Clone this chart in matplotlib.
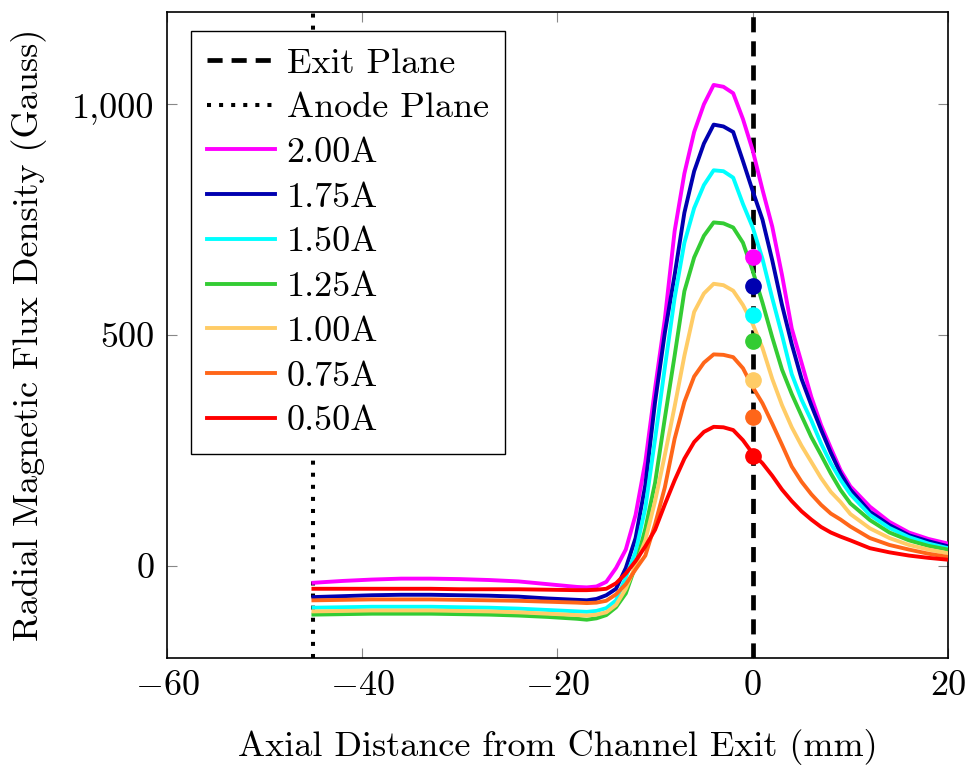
import numpy as np
import matplotlib
matplotlib.use("Agg")
import matplotlib.pyplot as plt
from matplotlib.ticker import FuncFormatter

plt.rcParams['font.family'] = ['cmr10', 'DejaVu Serif']
plt.rcParams['mathtext.fontset'] = 'cm'
plt.rcParams['axes.formatter.use_mathtext'] = True

# axial position (mm)
distance = [-45, -42, -39, -36, -33, -30, -27, -24, -21, -18, -17, -16, -15,
            -14, -13, -12, -11, -10, -9, -8, -7, -6, -5, -4, -3, -2, -1,
            0, 1, 2, 3, 4, 5, 6, 7, 8, 9, 10,
            12, 14, 16, 18, 20]

# radial flux density (Gauss) per coil current
b_200 = [-37, -33, -30, -28, -28, -29, -31, -34, -40, -46, -47, -45, -35,
         -5, 35, 110, 225, 385, 535, 725, 850, 940, 1000, 1042, 1038, 1024, 968,
         900, 815, 735, 630, 514, 440, 366, 305, 255, 207, 172,
         128, 95, 72, 58, 48]
b_175 = [-68, -66, -64, -63, -63, -64, -65, -67, -71, -74, -75, -72, -64,
         -50, -5, 60, 175, 355, 505, 630, 765, 855, 915, 956, 952, 940, 877,
         812, 750, 662, 565, 480, 405, 348, 295, 245, 200, 165,
         117, 88, 66, 53, 42]
b_150 = [-91, -90, -89, -89, -89, -90, -91, -93, -96, -99, -100, -98, -92,
         -75, -25, 30, 125, 275, 430, 580, 700, 775, 825, 857, 855, 841, 784,
         733, 665, 580, 500, 415, 360, 315, 265, 222, 186, 155,
         110, 82, 62, 48, 38]
b_125 = [-106, -105, -104, -104, -104, -105, -106, -108, -111, -115, -117, -114, -107,
         -90, -60, 0, 80, 180, 320, 455, 595, 668, 715, 744, 742, 733, 700,
         639, 570, 495, 425, 372, 325, 279, 240, 200, 164, 135,
         99, 72, 55, 43, 35]
b_100 = [-99, -98, -97, -97, -97, -98, -99, -101, -104, -107, -108, -106, -101,
         -85, -50, 0, 55, 140, 240, 345, 455, 550, 590, 611, 608, 596, 565,
         524, 472, 405, 348, 300, 260, 225, 190, 160, 138, 112,
         81, 60, 45, 35, 27]
b_075 = [-75, -74, -73, -73, -73, -74, -75, -76, -78, -80, -81, -80, -76,
         -62, -40, -8, 22, 90, 170, 275, 355, 410, 440, 458, 457, 452, 428,
         387, 352, 308, 262, 215, 182, 155, 132, 113, 100, 85,
         60, 45, 35, 26, 19]
b_050 = [-50, -50, -50, -50, -50, -51, -51, -51, -52, -53, -53, -52, -50,
         -38, -17, 10, 42, 78, 133, 185, 232, 268, 290, 301, 300, 294, 272,
         243, 222, 195, 165, 140, 118, 100, 84, 72, 63, 55,
         38, 29, 22, 17, 13]

labels = ['2.00A', '1.75A', '1.50A', '1.25A', '1.00A', '0.75A', '0.50A']
series = [b_200, b_175, b_150, b_125, b_100, b_075, b_050]
colors = ['#ff00ff', '#0000b0', '#00ffff', '#33cc33', '#ffcc66', '#ff6619', '#ff0000']

# single measurement at the exit plane
exit_x = 0
exit_b = [670, 607, 544, 486, 402, 322, 238]

exit_plane = 0
anode_plane = -45

fig = plt.figure(figsize=(9.69, 7.66), dpi=100)
ax = fig.add_axes([0.1723, 0.141, 0.806, 0.8433])

ax.axvline(exit_plane, color='black', lw=3.4, ls=(0, (3.2, 1.9)), zorder=2, label='Exit Plane')
ax.axvline(anode_plane, color='black', lw=2.9, ls=(0, (1, 2)), zorder=2, label='Anode Plane')

for b, c, l in zip(series, colors, labels):
    ax.plot(distance, b, color=c, lw=2.8, label=l, zorder=3)

for b, c in zip(exit_b, colors):
    ax.plot(exit_x, b, 'o', color=c, ms=11, zorder=4)

ax.set_xlim(-60, 20)
ax.set_ylim(-200, 1200)
ax.set_xticks([-60, -40, -20, 0, 20])
ax.set_yticks([0, 500, 1000])


def fmt_x(v, pos):
    if v < 0:
        return r'$-%d$' % abs(v)
    return '%d' % v


ax.xaxis.set_major_formatter(FuncFormatter(fmt_x))
ax.yaxis.set_major_formatter(FuncFormatter(lambda v, p: '{:,.0f}'.format(v)))

ax.tick_params(direction='in', length=7, width=0.8, color='#888888',
               top=True, right=True, labelsize=26, pad=9)
for s in ax.spines.values():
    s.set_linewidth(1.2)

ax.set_xlabel('Axial Distance from Channel Exit (mm)', fontsize=26, labelpad=19)
ax.set_ylabel('Radial Magnetic Flux Density (Gauss)', fontsize=26, labelpad=18)

leg = ax.legend(loc='upper left', bbox_to_anchor=(0.0307, 0.9706), borderaxespad=0,
                fontsize=26, fancybox=False, framealpha=1, edgecolor='black',
                handlelength=1.88, handletextpad=0.32, labelspacing=0.345,
                borderpad=0.45)
leg.get_frame().set_linewidth(1.0)
leg.set_zorder(5)

fig.savefig('out.png', dpi=100)
